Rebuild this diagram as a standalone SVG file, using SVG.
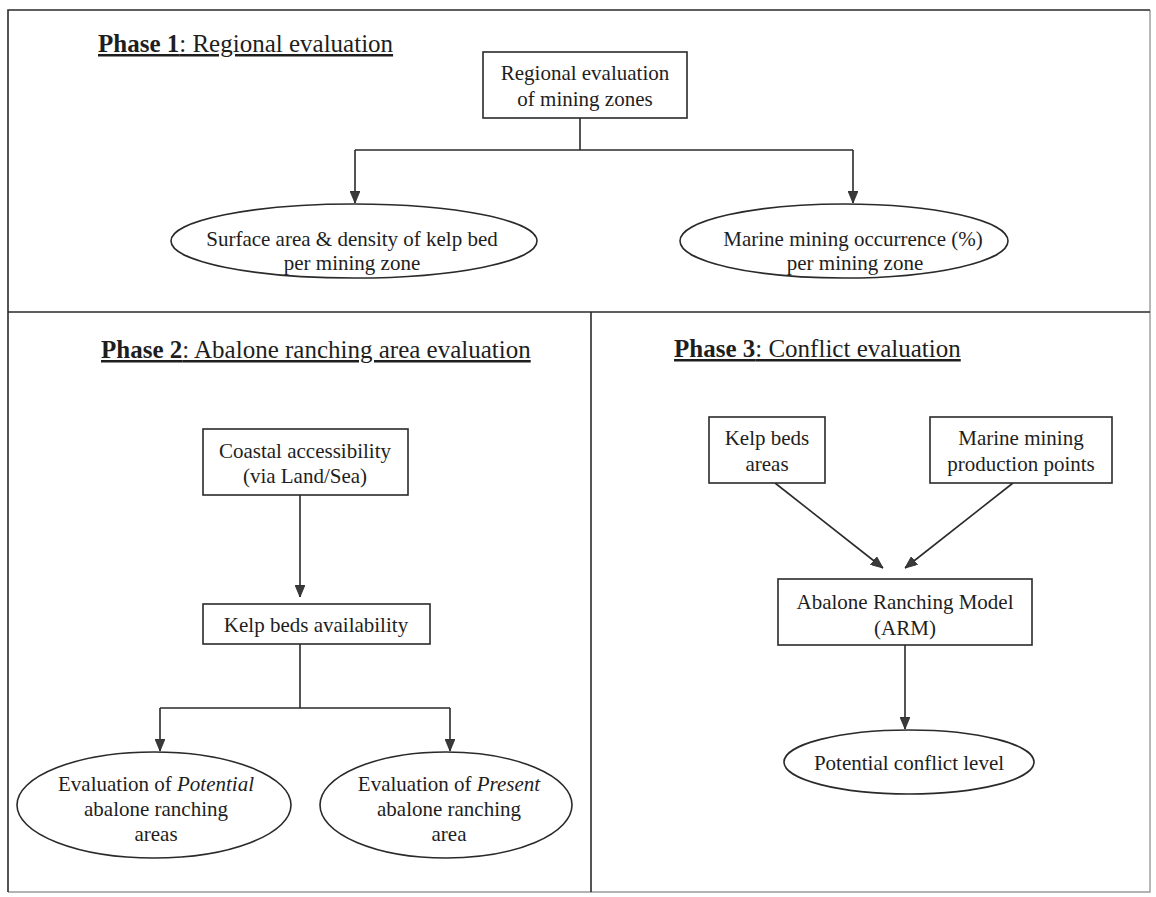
<svg xmlns="http://www.w3.org/2000/svg" width="1156" height="897" viewBox="0 0 1156 897">
<style>
  .frame{fill:none;stroke:#2a2a2a;stroke-width:1.6}
  .frame-light{fill:none;stroke:#9a9a9a;stroke-width:1.4}
  .box{fill:#fff;stroke:#2a2a2a;stroke-width:1.6}
  .ell{fill:#fff;stroke:#2a2a2a;stroke-width:1.6}
  .conn{fill:none;stroke:#2a2a2a;stroke-width:1.6}
  .t{font-family:"Liberation Serif","Times New Roman",serif;font-size:21px;fill:#1e1e1e;text-anchor:middle}
  .title{font-family:"Liberation Serif","Times New Roman",serif;font-size:25px;fill:#1e1e1e;text-decoration:underline}
  .b{font-weight:bold}
  .i{font-style:italic}
</style>
<defs>
  <marker id="arrow" markerUnits="userSpaceOnUse" markerWidth="12" markerHeight="10" refX="12" refY="5" orient="auto">
    <path d="M0,0 L12,5 L0,10 Z" fill="#3a3a3a" stroke="#2a2a2a" stroke-width="0.8"/>
  </marker>
</defs>
<rect width="1156" height="897" fill="#ffffff"/>

<g id="panels">
  <path class="frame-light" d="M1150,10 L1150,892 L8,892"/>
  <path class="frame" d="M8,892 L8,10 L1150,10"/>
  <line class="frame" x1="8" y1="312" x2="1150" y2="312"/>
  <line class="frame" x1="591" y1="312" x2="591" y2="892"/>
</g>

<g id="titles">
  <text class="title" x="98" y="52"><tspan class="b">Phase 1</tspan>: Regional evaluation</text>
  <text class="title" x="101" y="358"><tspan class="b">Phase 2</tspan>: Abalone ranching area evaluation</text>
  <text class="title" x="674" y="357"><tspan class="b">Phase 3</tspan>: Conflict evaluation</text>
</g>

<g id="connectors">
  <path class="conn" d="M580,118 L580,150"/>
  <path class="conn" d="M355,150 L853,150"/>
  <path class="conn" d="M355,150 L355,203" marker-end="url(#arrow)"/>
  <path class="conn" d="M853,150 L853,203" marker-end="url(#arrow)"/>
  <path class="conn" d="M300,495 L300,597" marker-end="url(#arrow)"/>
  <path class="conn" d="M300,644 L300,708"/>
  <path class="conn" d="M160,708 L450,708"/>
  <path class="conn" d="M160,708 L160,751" marker-end="url(#arrow)"/>
  <path class="conn" d="M450,708 L450,751" marker-end="url(#arrow)"/>
  <path class="conn" d="M775,483 L883,568" marker-end="url(#arrow)"/>
  <path class="conn" d="M1013,483 L905,568" marker-end="url(#arrow)"/>
  <path class="conn" d="M905,645 L905,729" marker-end="url(#arrow)"/>
</g>

<g id="regional">
  <rect class="box" x="483" y="52" width="204" height="66"/>
  <text class="t" x="585" y="80">Regional evaluation</text>
  <text class="t" x="585" y="106">of mining zones</text>
</g>

<g id="surface">
  <ellipse class="ell" cx="354" cy="241" rx="183" ry="37"/>
  <text class="t" x="352" y="246">Surface area &amp; density of kelp bed</text>
  <text class="t" x="352" y="270">per mining zone</text>
</g>

<g id="marine-occurrence">
  <ellipse class="ell" cx="844" cy="241" rx="164" ry="37"/>
  <text class="t" x="853" y="246">Marine mining occurrence (%)</text>
  <text class="t" x="855" y="270">per mining zone</text>
</g>

<g id="coastal">
  <rect class="box" x="203" y="429" width="205" height="66"/>
  <text class="t" x="305" y="458">Coastal accessibility</text>
  <text class="t" x="305" y="483">(via Land/Sea)</text>
</g>

<g id="kelp-availability">
  <rect class="box" x="203" y="604" width="227" height="40"/>
  <text class="t" x="316" y="632">Kelp beds availability</text>
</g>

<g id="potential-areas">
  <ellipse class="ell" cx="154" cy="805" rx="137" ry="53"/>
  <text class="t" x="156" y="791">Evaluation of <tspan class="i">Potential</tspan></text>
  <text class="t" x="156" y="816">abalone ranching</text>
  <text class="t" x="156" y="841">areas</text>
</g>

<g id="present-area">
  <ellipse class="ell" cx="446" cy="805" rx="126" ry="53"/>
  <text class="t" x="449" y="791">Evaluation of <tspan class="i">Present</tspan></text>
  <text class="t" x="449" y="816">abalone ranching</text>
  <text class="t" x="449" y="841">area</text>
</g>

<g id="kelp-areas">
  <rect class="box" x="709" y="417" width="116" height="66"/>
  <text class="t" x="767" y="445">Kelp beds</text>
  <text class="t" x="767" y="471">areas</text>
</g>

<g id="mining-points">
  <rect class="box" x="930" y="417" width="182" height="66"/>
  <text class="t" x="1021" y="445">Marine mining</text>
  <text class="t" x="1021" y="471">production points</text>
</g>

<g id="arm">
  <rect class="box" x="778" y="579" width="254" height="66"/>
  <text class="t" x="905" y="609">Abalone Ranching Model</text>
  <text class="t" x="905" y="635">(ARM)</text>
</g>

<g id="conflict-level">
  <ellipse class="ell" cx="909" cy="762" rx="125" ry="32"/>
  <text class="t" x="909" y="770">Potential conflict level</text>
</g>
</svg>
